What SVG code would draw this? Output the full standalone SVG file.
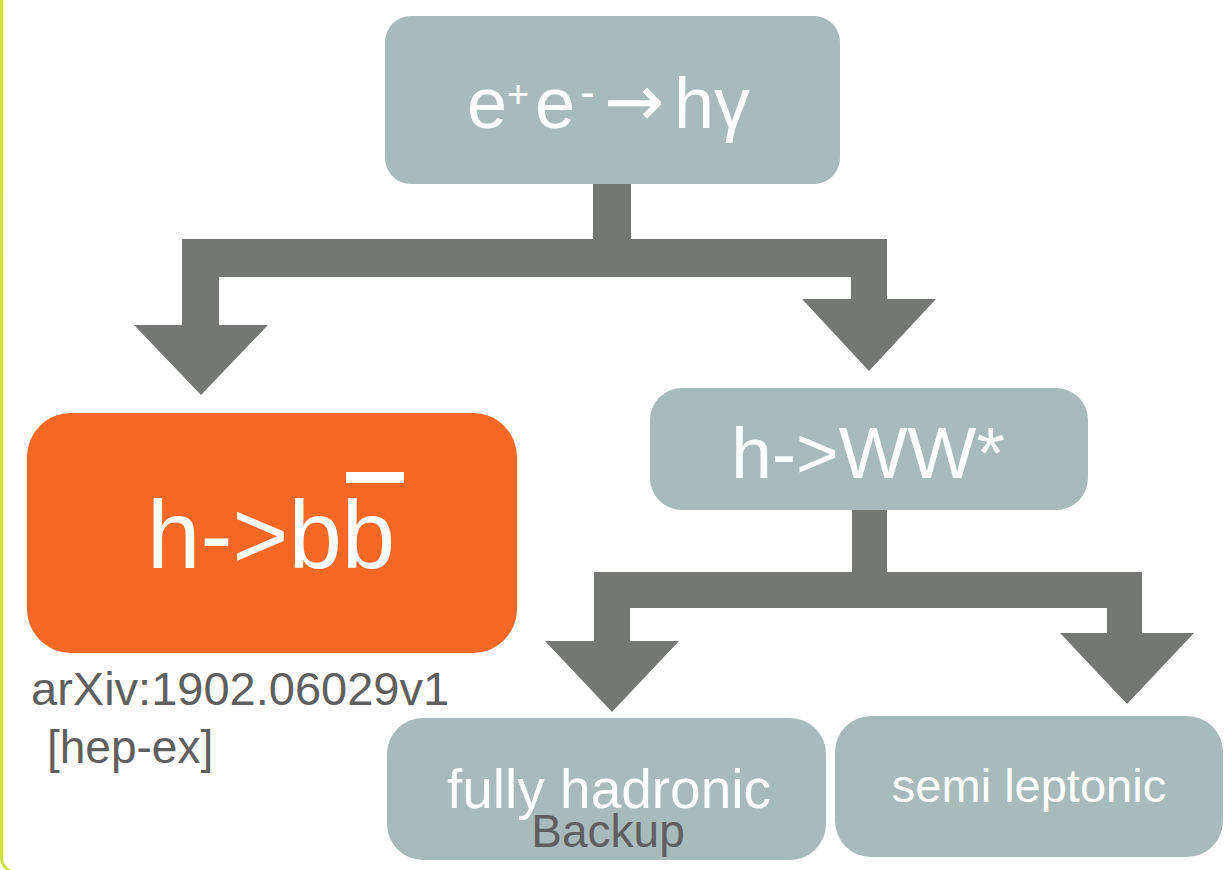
<svg xmlns="http://www.w3.org/2000/svg" width="1231" height="870" viewBox="0 0 1231 870">
  <style>
    .box { fill: #a7bbbb; }
    .hot { fill: #f76726; }
    .lbl { font-family: "Liberation Sans", Arial, sans-serif; fill: #ffffff; }
    .note { font-family: "Liberation Sans", Arial, sans-serif; fill: #5f5f5f; }
    .conn { fill: #757775; }
  </style>
  <rect width="1231" height="870" fill="#ffffff"/>
  <!-- slide frame, only its left edge is in view -->
  <rect x="1.5" y="-40" width="1300" height="913" rx="16" fill="none" stroke="#cde23a" stroke-width="3"/>

  <g id="connectors">
    <path class="conn" d="M593,182 H631 V239 H887 V299 H936 L869,371 L802,299 H851 V277 H219 V325 H268 L201,395 L134,325 H182 V239 H593 Z"/>
    <path class="conn" d="M852,508 H887 V572 H1142 V633 H1194 L1127,704 L1060,633 H1107 V608 H630 V641 H679 L612,712 L545,641 H594 V572 H852 Z"/>
  </g>

  <g id="node-ee-hgamma">
    <rect class="box" x="385" y="16" width="455" height="168" rx="26"/>
    <text class="lbl" y="128" font-size="72"><tspan x="467">e</tspan><tspan x="507" y="107" font-size="38">+</tspan><tspan x="535" y="128">e</tspan><tspan x="580" y="107" font-size="44">-</tspan><tspan x="604" y="126" font-family="'DejaVu Sans', sans-serif" font-size="72">→</tspan><tspan x="674" y="128">h</tspan><tspan x="714">γ</tspan></text>
  </g>

  <g id="node-hbb">
    <rect class="hot" x="27" y="413" width="490" height="240" rx="44"/>
    <text class="lbl" x="147" y="568" font-size="96">h-&gt;bb</text>
    <rect x="346" y="472" width="58" height="11" fill="#ffffff"/>
  </g>

  <g id="node-hww">
    <rect class="box" x="650" y="388" width="438" height="122" rx="32"/>
    <text class="lbl" x="868" y="478" font-size="73" text-anchor="middle">h-&gt;WW*</text>
  </g>

  <g id="node-fully-hadronic">
    <rect class="box" x="387" y="718" width="439" height="142" rx="36"/>
    <text class="lbl" x="609" y="808" font-size="55" text-anchor="middle">fully hadronic</text>
  </g>

  <g id="node-semi-leptonic">
    <rect class="box" x="835" y="716" width="388" height="141" rx="36"/>
    <text class="lbl" x="1029" y="802" font-size="47" text-anchor="middle">semi leptonic</text>
  </g>

  <g id="notes">
    <text class="note" x="31" y="705" font-size="47">arXiv:1902.06029v1</text>
    <text class="note" x="47" y="763" font-size="46">[hep-ex]</text>
    <text class="note" x="608" y="847" font-size="46" text-anchor="middle">Backup</text>
  </g>
</svg>
